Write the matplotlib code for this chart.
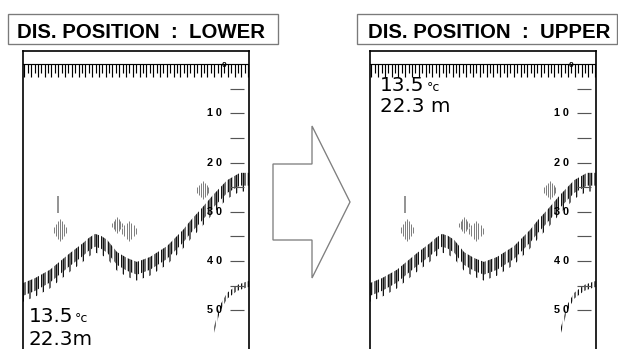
import numpy as np
import matplotlib
matplotlib.use("Agg")
import matplotlib.pyplot as plt
from matplotlib.patches import Rectangle, Polygon

# Figure size in pixels
W, H = 618, 349
DPI = 120

titles = ["DIS. POSITION  :  LOWER", "DIS. POSITION  :  UPPER"]

# Bottom echo: screen column (% of width) and depth (m) of its upper edge
bottom_x = [0, 5.3, 11.9, 20.8, 26.5, 29.2, 31.9, 34.5, 37.2, 41.6, 46.0,
            50.4, 56.2, 63.7, 70.8, 74.3, 78.3, 84.1, 90.3, 96.0, 100]
bottom_depth = [44.5, 43.5, 41.8, 38.4, 36.4, 35.3, 34.5, 34.9, 35.7, 38.2, 39.4,
                40.2, 39.2, 37.0, 33.7, 31.7, 29.7, 26.6, 23.6, 22.1, 22.1]

# Second bottom echo (lower right corner)
echo2_x = [84.1, 87.2, 90.3, 94.7, 99.6, 100]
echo2_depth = [54.1, 49.0, 46.5, 44.9, 44.1, 44.1]

# Fish echoes
fish_x = [16.4, 41.6, 46.9, 79.6]
fish_depth = [33.7, 32.7, 33.9, 25.6]
fish_half_height = [2.2, 1.6, 2.0, 1.8]
fish_half_width = [2.7, 2.2, 3.1, 2.4]

# Single thin fish trace
trace_x = [15.5]
trace_top = [26.9]
trace_bottom = [30.3]

# Depth scale
depth_ticks = [10, 20, 30, 40, 50]
depth_labels = ["1 0", "2 0", "3 0", "4 0", "5 0"]
minor_ticks = [5, 15, 25, 35, 45]

# Readouts
temperature = "13.5"
temp_unit = "°c"
depth_readings = ["22.3m", "22.3 m"]

plt.rcParams['hatch.linewidth'] = 0.7
plt.rcParams['hatch.color'] = 'black'

fig = plt.figure(figsize=(W / DPI, H / DPI), dpi=DPI)

# Background layer for the title boxes and the arrow (pixel coordinates)
bg = fig.add_axes([0, 0, 1, 1], zorder=0)
bg.set_xlim(0, W)
bg.set_ylim(H, 0)
bg.axis('off')

title_boxes = [(8, 14, 270, 30), (357, 14, 260, 30)]
title_text_x = [17, 368]
for (bx, by, bw, bh), tx, title in zip(title_boxes, title_text_x, titles):
    bg.add_patch(Rectangle((bx, by), bw, bh, facecolor='white',
                           edgecolor='#7a7a7a', lw=0.8))
    bg.text(tx, 38, title, fontsize=12.2, fontweight='bold',
            family='Liberation Sans', ha='left', va='baseline', color='black')

arrow = [(273, 164), (312, 164), (312, 126), (350, 202),
         (312, 278), (312, 240), (273, 240)]
bg.add_patch(Polygon(arrow, closed=True, facecolor='white',
                     edgecolor='#808080', lw=0.8))


def draw_panel(ax, temp_pos, unit_pos, depth_pos, depth_text):
    ax.set_xlim(0, 100)
    ax.set_ylim(57.9, -2.66)
    ax.set_xticks([])
    ax.set_yticks([])
    ax.spines['bottom'].set_visible(False)
    for s in ['left', 'right', 'top']:
        ax.spines[s].set_linewidth(1.0)

    # ruler along the top
    ax.axhline(0, color='black', lw=0.7)
    cols = np.arange(0.6, 100, 1.5)
    ax.vlines(cols[::2], 0, 2.6, color='black', lw=0.7)
    ax.vlines(cols[1::2], 0, 1.8, color='black', lw=0.7)
    ax.text(88.9, 0.3, '0', fontsize=5, fontweight='bold',
            family='Liberation Sans', ha='center', va='center')

    # depth scale on the right
    ax.hlines(depth_ticks, 91.6, 98, color='#555555', lw=0.7)
    ax.hlines(minor_ticks, 91.6, 98, color='#555555', lw=0.7)
    for d, lab in zip(depth_ticks, depth_labels):
        ax.text(88, d, lab, ha='right', va='center', fontsize=6.5,
                fontweight='bold', family='Liberation Sans')

    # fish
    offs = np.array([-1, -2 / 3, -1 / 3, 0, 1 / 3, 2 / 3, 1])
    shape = np.array([0.3, 0.55, 0.8, 1.0, 0.8, 0.55, 0.3])
    for fx, fd, hh, hw in zip(fish_x, fish_depth, fish_half_height, fish_half_width):
        ax.vlines(fx + offs * hw, fd - shape * hh, fd + shape * hh,
                  color='#808080', lw=0.6)
    ax.vlines(trace_x, trace_top, trace_bottom, color='#808080', lw=1.0)

    # bottom echo, hatched band
    top = np.array(bottom_depth)
    ax.fill_between(bottom_x, top, top + 3.8, facecolor='none',
                    edgecolor='black', hatch='|||', lw=0)
    ax.fill_between(bottom_x, top, top + 2.6, facecolor='none',
                    edgecolor='black', hatch='||||||', lw=0)

    # second echo
    top2 = np.array(echo2_depth)
    ax.fill_between(echo2_x, top2, top2 + 1.2, facecolor='none',
                    edgecolor='black', hatch='||||||', lw=0)

    # readouts
    ax.text(temp_pos[0], temp_pos[1], temperature, fontsize=12,
            family='DejaVu Sans', ha='left', va='baseline')
    ax.text(unit_pos[0], unit_pos[1], temp_unit, fontsize=7.5,
            family='DejaVu Sans', ha='left', va='baseline')
    ax.text(depth_pos[0], depth_pos[1], depth_text, fontsize=12,
            family='DejaVu Sans', ha='left', va='baseline')


ax_lower = fig.add_axes([23 / W, 0, 226 / W, (H - 51) / H], zorder=1)
draw_panel(ax_lower, (2.65, 52.4), (23.0, 52.4), (2.65, 57.1), depth_readings[0])

ax_upper = fig.add_axes([370 / W, 0, 226 / W, (H - 51) / H], zorder=1)
draw_panel(ax_upper, (4.4, 5.5), (25.2, 5.5), (4.4, 9.7), depth_readings[1])

fig.savefig('out.png', dpi=DPI)
